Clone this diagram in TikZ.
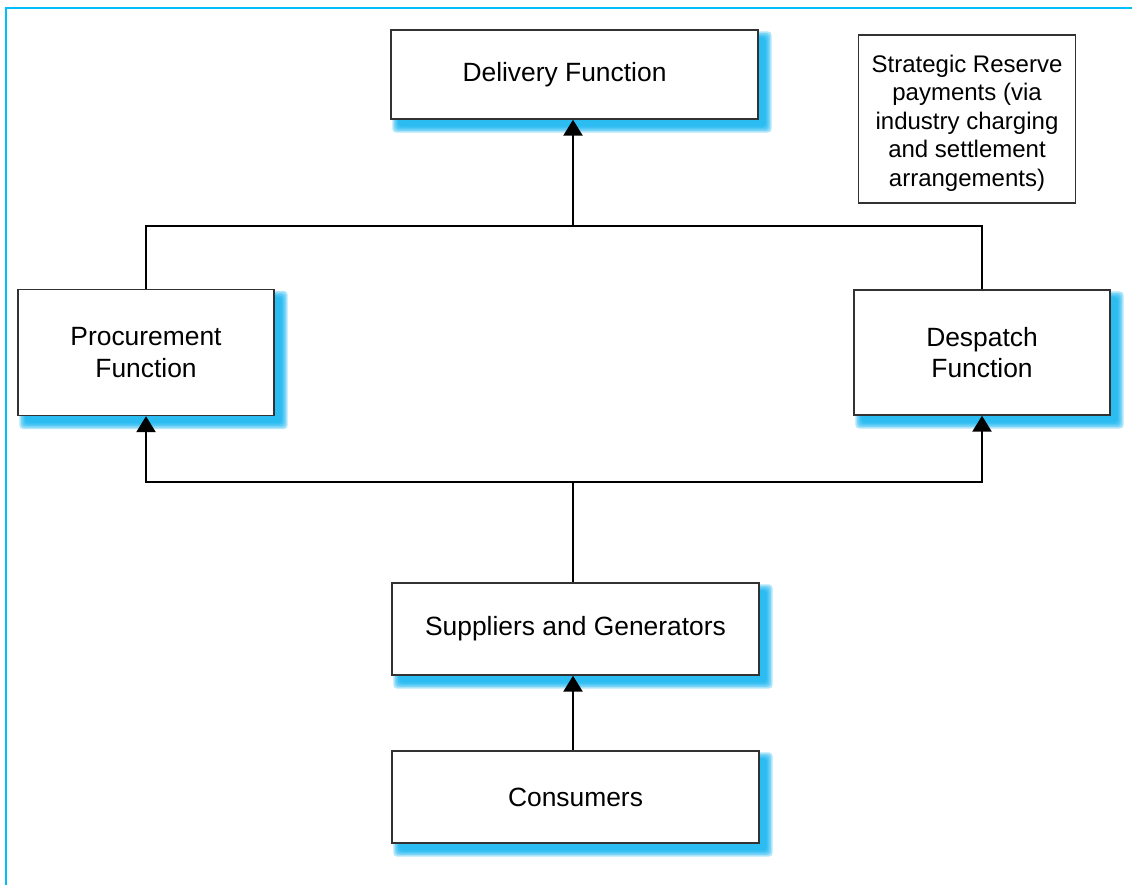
\documentclass[tikz,border=0pt]{standalone}
\usepackage{fontspec}
\setmainfont{Liberation Sans}
\usetikzlibrary{arrows.meta,backgrounds,calc}
\definecolor{shblue}{RGB}{0,174,239}
\definecolor{frameblue}{RGB}{0,190,250}
\definecolor{boxline}{RGB}{50,50,50}
\begin{document}
\begin{tikzpicture}[x=0.5bp,y=-0.5bp,
  mainfont/.style={font=\fontsize{13.2bp}{15.8bp}\selectfont},
  fbox/.style={draw=boxline, line width=0.7bp, fill=white, inner sep=0pt, align=center, mainfont},
  notebox/.style={draw=boxline, line width=0.6bp, fill=white, inner sep=0pt, align=center},
  notetext/.style={align=center, inner sep=0pt, font=\fontsize{12bp}{14.2bp}\selectfont},
  conn/.style={line width=1.3bp, draw=black},
  arr/.style={conn, -{Triangle[width=9.5bp,length=8bp]}}]
\useasboundingbox (0,0) rectangle (1132,885);
\draw[frameblue, line width=1bp] (6,885) -- (6,8) -- (1132,8);

\node[fbox, minimum width=183.5bp, minimum height=44.5bp,
  label={[mainfont, inner sep=0pt, xshift=-5bp]center:Delivery Function}] (deliv) at (574.5,74.5) {};
\node[notebox, minimum width=108.5bp, minimum height=84bp,
  label={[notetext, yshift=-2bp]center:{Strategic Reserve\\payments (via\\industry charging\\and settlement\\arrangements)}}] (note) at (967,119) {};
\node[fbox, minimum width=128bp, minimum height=63bp] (proc) at (146,352.5) {Procurement\\Function};
\node[fbox, minimum width=128bp, minimum height=62.5bp] (desp) at (982,352.5) {Despatch\\Function};
\node[fbox, minimum width=183.5bp, minimum height=46bp] (supp) at (575.5,629) {Suppliers and Generators};
\node[fbox, minimum width=183.5bp, minimum height=46bp] (cons) at (575.5,797) {Consumers};

\begin{scope}[on background layer]
\foreach \b in {deliv,proc,desp,supp,cons}{
  \foreach \r in {0,1.5,3,4.5,6}{
    \fill[shblue, opacity=0.3, rounded corners=2bp]
      ($(\b.north west)+(8-\r,8-\r)$) rectangle ($(\b.south east)+(7+\r,7+\r)$);
  }
}
\end{scope}

\coordinate (jt) at (573,226);
\coordinate (jb) at (573,482);
\draw[conn] (proc.north) |- (jt);
\draw[conn] (desp.north) |- (jt);
\draw[arr] (jt) -- (jt |- deliv.south);
\draw[conn] (supp.north -| jb) -- (jb);
\draw[arr] (jb) -| (proc.south);
\draw[arr] (jb) -| (desp.south);
\draw[arr] (cons.north -| jb) -- (supp.south -| jb);
\end{tikzpicture}
\end{document}
